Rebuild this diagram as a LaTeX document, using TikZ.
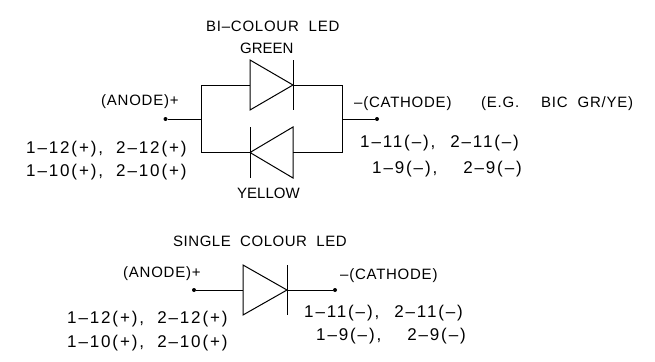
\documentclass[tikz,border=0pt]{standalone}
\usepackage{fontspec}
\setmainfont{Liberation Sans}
\usetikzlibrary{positioning}
\tikzstyle{colourname} = [inner sep=0pt, anchor=base west, font=\fontsize{15}{15}\selectfont]
\tikzstyle{title} = [inner sep=0pt, anchor=base west, font=\fontsize{15}{15}\selectfont\addfontfeature{LetterSpace=3.5}]
\tikzstyle{label} = [inner sep=0pt, anchor=base west, font=\fontsize{15}{15}\selectfont\addfontfeature{LetterSpace=5}]
\tikzstyle{pins} = [inner sep=0pt, anchor=base west, font=\fontsize{17}{17}\selectfont\addfontfeature{LetterSpace=11}]
\tikzstyle{wire} = [line width=1pt, black]
\tikzstyle{terminal} = [circle, fill=black, inner sep=0pt, minimum size=4pt]
\begin{document}
\begin{tikzpicture}[x=1pt,y=-1pt]
    \useasboundingbox (0,0) rectangle (655,361);

    % Bi-colour LED
    \node (bititle) [label] at (206,32) {BI–COLOUR\ \ LED};
    \node (green) [colourname] at (240,54) {GREEN};
    \node (yellow) [colourname] at (237,198) {YELLOW};
    \node (bianode) [label] at (101,105) {(ANODE)+};
    \node (bicathode) [label] at (354,107) {–(CATHODE)};
    \node (example) [label] at (481,107) {(E.G.\hspace{22pt}BIC\hspace{10pt}GR/YE)};
    \node (bileftone) [pins] at (26,153) {1–12(+),\ \ 2–12(+)};
    \node (bilefttwo) [pins] at (26,176) {1–10(+),\ \ 2–10(+)};
    \node (birightone) [pins] at (360,147) {1–11(–),\hspace{15pt}2–11(–)};
    \node (birighttwo) [pins] at (372,173) {1–9(–),\hspace{26pt}2–9(–)};

    \node (biplus) [terminal] at (165.5,119) {};
    \node (biminus) [terminal] at (377,119) {};
    \coordinate (leftjoin) at (201,119);
    \coordinate (rightjoin) at (342.5,119);
    \coordinate (topleft) at (201,85);
    \coordinate (topright) at (342.5,85);
    \coordinate (botleft) at (201,152.5);
    \coordinate (botright) at (342.5,152.5);

    % Green diode
    \coordinate (greenin) at (250,85);
    \coordinate (greentip) at (293,85);
    \draw [wire] (greenin) -- (250,60) -- (greentip) -- (250,110) -- cycle;
    \draw [wire] (293,60) -- (293,110);
    % Yellow diode
    \coordinate (yellowtip) at (250,152.5);
    \coordinate (yellowin) at (293,152.5);
    \draw [wire] (yellowin) -- (293,127) -- (yellowtip) -- (293,178) -- cycle;
    \draw [wire] (250,127) -- (250,178);

    % Wires
    \draw [wire] (biplus) -- (leftjoin);
    \draw [wire] (biminus) -- (rightjoin);
    \draw [wire] (greenin) -- (topleft) -- (botleft) -- (yellowtip);
    \draw [wire] (greentip) -- (topright) -- (botright) -- (yellowin);

    % Single colour LED
    \node (sititle) [title] at (173,246) {SINGLE\ \ COLOUR\ \ LED};
    \node (sianode) [label] at (123,277) {(ANODE)+};
    \node (sicathode) [label] at (340,279) {–(CATHODE)};
    \node (sileftone) [pins] at (67,323) {1–12(+),\ \ 2–12(+)};
    \node (silefttwo) [pins] at (67,347) {1–10(+),\ \ 2–10(+)};
    \node (sirightone) [pins] at (304,317) {1–11(–),\hspace{15pt}2–11(–)};
    \node (sirighttwo) [pins] at (316,340) {1–9(–),\hspace{26pt}2–9(–)};

    \node (siplus) [terminal] at (194,290) {};
    \node (siminus) [terminal] at (335,290) {};
    \coordinate (singlein) at (243,290);
    \coordinate (singletip) at (287,290);
    \draw [wire] (singlein) -- (243,265) -- (singletip) -- (243,315) -- cycle;
    \draw [wire] (287,265) -- (287,315);
    \draw [wire] (siplus) -- (singlein);
    \draw [wire] (singletip) -- (siminus);
\end{tikzpicture}
\end{document}
